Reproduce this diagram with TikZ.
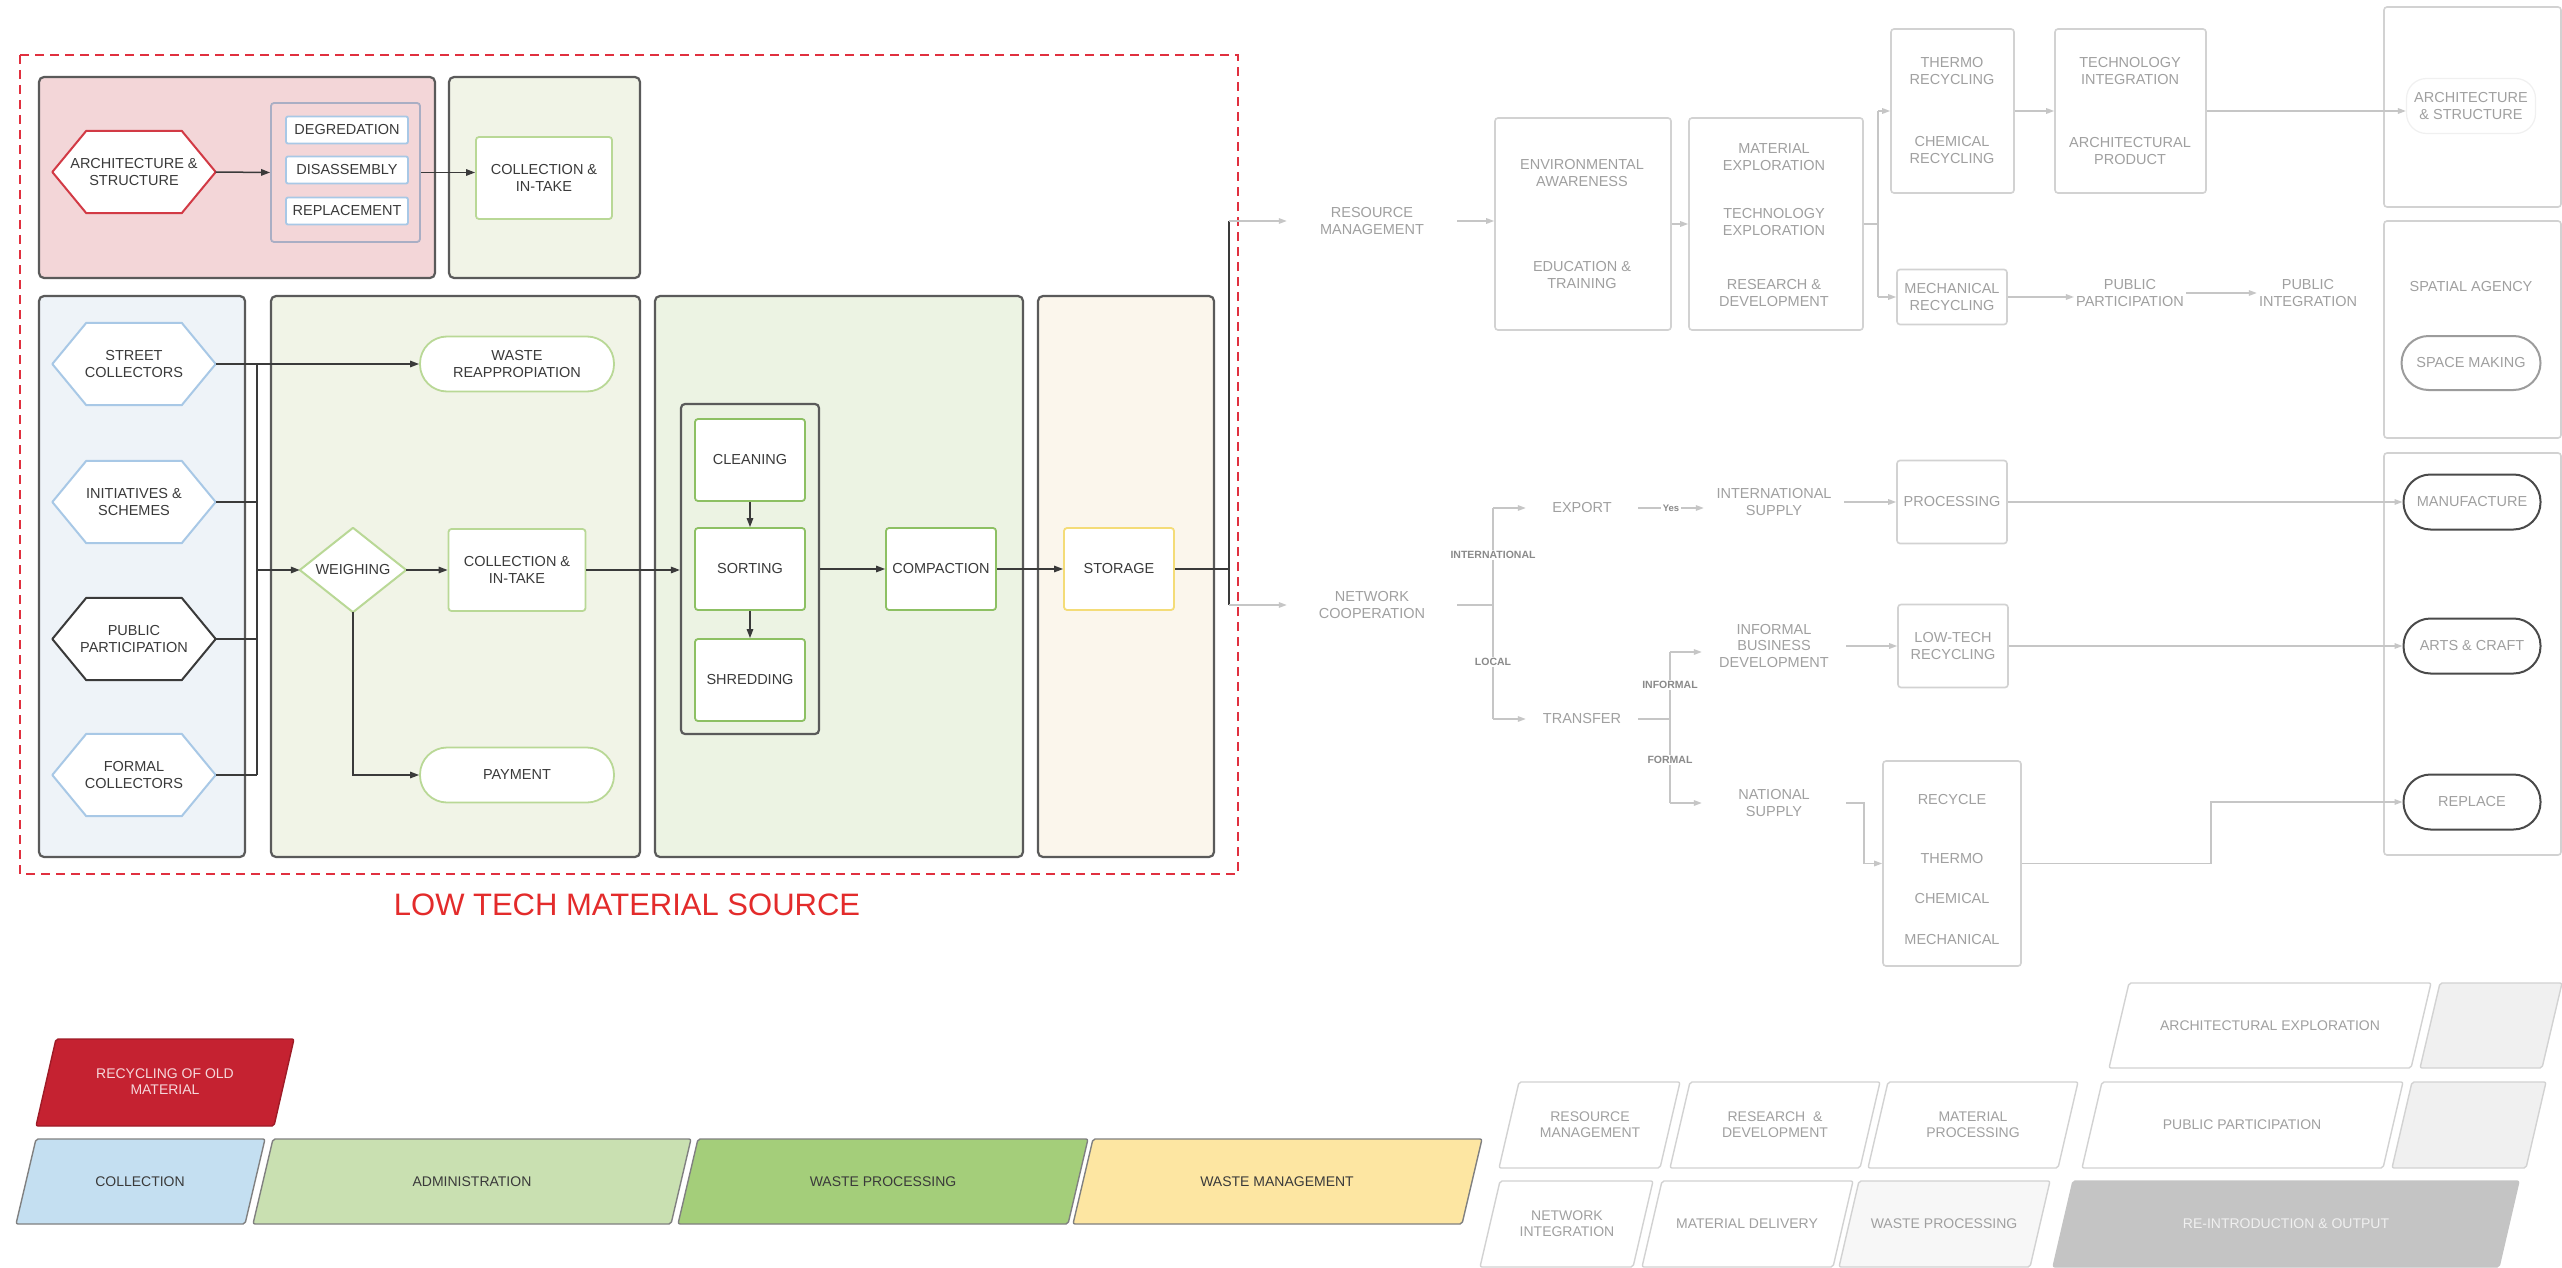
\documentclass[tikz,border=0pt]{standalone}
\usepackage{fontspec}
\setmainfont{Liberation Sans}
\usetikzlibrary{arrows.meta,calc}
\pgfdeclarelayer{panels}
\pgfdeclarelayer{outlines}
\pgfsetlayers{panels,outlines,main}

\definecolor{dashred}{HTML}{E0303F}
\definecolor{titlered}{HTML}{E32B2B}
\definecolor{pinkfill}{HTML}{F3D6D8}
\definecolor{olivefill}{HTML}{F1F4E7}
\definecolor{bluefill}{HTML}{EEF3F8}
\definecolor{greenfill}{HTML}{ECF3E3}
\definecolor{creamfill}{HTML}{FBF6EC}
\definecolor{panelline}{HTML}{5A5A5A}
\definecolor{hexblue}{HTML}{A8C8E6}
\definecolor{hexred}{HTML}{D23A45}
\definecolor{grpline}{HTML}{A9AEC4}
\definecolor{lightgreen}{HTML}{B9D896}
\definecolor{midgreen}{HTML}{8DC063}
\definecolor{yellowline}{HTML}{F4DC78}
\definecolor{inkdark}{HTML}{3A3A3A}
\definecolor{fadetext}{HTML}{A0A0A0}
\definecolor{fadeline}{HTML}{D2D2D2}
\definecolor{fadearrow}{HTML}{C6C6C6}
\definecolor{branchgrey}{HTML}{8A8A8A}
\definecolor{darkline}{HTML}{4A4A4A}
\definecolor{spacegrey}{HTML}{9C9C9C}
\definecolor{legred}{HTML}{C52231}
\definecolor{legblue}{HTML}{C4DFF1}
\definecolor{leglgreen}{HTML}{C9E0B1}
\definecolor{leggreen}{HTML}{A4CE7A}
\definecolor{legyellow}{HTML}{FDE6A2}
\definecolor{leggrey}{HTML}{C4C4C4}

% hexagon drawn around a named node
\newcommand\hexframe[2]{%
  \begin{pgfonlayer}{outlines}
    \draw[#2] (#1.west) -- ([xshift=34pt]#1.north west) -- ([xshift=-34pt]#1.north east)
      -- (#1.east) -- ([xshift=-34pt]#1.south east) -- ([xshift=34pt]#1.south west) -- cycle;
  \end{pgfonlayer}}
% diamond drawn around a named node
\newcommand\diamondframe[2]{%
  \begin{pgfonlayer}{outlines}
    \draw[#2] (#1.west) -- (#1.north) -- (#1.east) -- (#1.south) -- cycle;
  \end{pgfonlayer}}
% slanted legend slab: bottom-left x, bottom-right x, top y, bottom y, style
\newcommand\slab[5]{\draw[#5] (#1,#4) -- (#1+20,#3) -- (#2+20,#3) -- (#2,#4) -- cycle;}

\begin{document}
\begin{tikzpicture}[x=1pt,y=-1pt,
  lbl/.style={font=\fontsize{14.5}{16.5}\selectfont, text=inkdark, align=center, inner sep=2pt},
  fadelbl/.style={font=\fontsize{14.5}{16.5}\selectfont, text=fadetext, align=center, inner sep=2pt},
  panel/.style={draw=panelline, line width=2.2pt, rounded corners=5pt},
  hexnode/.style={lbl, minimum width=163pt, minimum height=82pt},
  hexline/.style={draw=#1, fill=white, line width=2pt, line join=round},
  bluebox/.style={lbl, draw=hexblue, fill=white, line width=1.8pt, minimum width=122pt, minimum height=27pt, rounded corners=2pt},
  greenbox/.style={lbl, draw=lightgreen, fill=white, line width=1.8pt, minimum width=137pt, minimum height=82pt, rounded corners=3pt},
  stadium/.style={lbl, draw=lightgreen, fill=white, line width=1.8pt, minimum width=194pt, minimum height=55pt, rounded corners=27pt},
  procbox/.style={lbl, draw=midgreen, fill=white, line width=1.8pt, minimum width=110pt, minimum height=82pt, rounded corners=3pt},
  link/.style={draw=inkdark, line width=1.5pt, -{Triangle[length=9pt,width=6.5pt]}},
  plain/.style={draw=inkdark, line width=1.5pt},
  fadelink/.style={draw=fadearrow, line width=1.5pt, -{Triangle[length=8pt,width=5.5pt]}},
  fadeplain/.style={draw=fadearrow, line width=1.5pt},
  fadebox/.style={draw=fadeline, line width=1.6pt, rounded corners=3pt, fill=white},
  outstad/.style={fadelbl, draw=#1, line width=2pt, minimum width=137pt, minimum height=55pt, rounded corners=27pt, fill=white},
  branch/.style={font=\bfseries\fontsize{10.5}{12}\selectfont, text=branchgrey, fill=white, inner sep=1.5pt},
  legtext/.style={font=\fontsize{14}{16}\selectfont, align=center, inner sep=1pt},
  legslab/.style={line width=1.4pt, rounded corners=2pt, line join=round},
]
\useasboundingbox (0,0) rectangle (2562,1268);

% ---------- background panels ----------
\begin{pgfonlayer}{panels}
  \fill[white] (0,0) rectangle (2562,1268);
  \draw[panel, fill=pinkfill]  (39,77)   rectangle (435,278);
  \draw[panel, fill=olivefill] (449,77)  rectangle (640,278);
  \draw[panel, fill=bluefill]  (39,296)  rectangle (245,857);
  \draw[panel, fill=olivefill] (271,296) rectangle (640,857);
  \draw[panel, fill=greenfill] (655,296) rectangle (1023,857);
  \draw[panel, fill=creamfill] (1038,296) rectangle (1214,857);
  \draw[draw=dashred, line width=2pt, dash pattern=on 9pt off 6pt] (20,55) rectangle (1238,874);
\end{pgfonlayer}

\node[font=\fontsize{31}{36}\selectfont, text=titlered] (srctitle) at (627,905) {LOW TECH MATERIAL SOURCE};

% ---------- recycling of old material ----------
\node[hexnode] (archhex) at (134,172) {ARCHITECTURE \&\\STRUCTURE};
\hexframe{archhex}{hexline=hexred}
\node[draw=grpline, fill=pinkfill, line width=1.8pt, rounded corners=3pt, minimum width=149pt, minimum height=139pt] (lossgrp) at (345.5,172.5) {};
\node[bluebox] (degr) at (347,130) {DEGREDATION};
\node[bluebox] (disas) at (347,170) {DISASSEMBLY};
\node[bluebox] (repl) at (347,211) {REPLACEMENT};
\node[greenbox, minimum width=136pt] (colltop) at (544,178) {COLLECTION \&\\IN-TAKE};
\draw[link] (archhex.east) -- (lossgrp.west);
\draw[link] (lossgrp.east) -- (lossgrp.east -| colltop.west);

% ---------- collection ----------
\node[hexnode] (street) at (134,364) {STREET\\COLLECTORS};
\node[hexnode] (initi) at (134,502) {INITIATIVES \&\\SCHEMES};
\node[hexnode] (pubpart) at (134,639) {PUBLIC\\PARTICIPATION};
\node[hexnode] (formal) at (134,775) {FORMAL\\COLLECTORS};
\hexframe{street}{hexline=hexblue}
\hexframe{initi}{hexline=hexblue}
\hexframe{pubpart}{hexline=inkdark}
\hexframe{formal}{hexline=hexblue}

% ---------- administration ----------
\node[stadium] (reapp) at (517,364) {WASTE\\REAPPROPIATION};
\node[lbl, minimum width=106pt, minimum height=84pt] (weigh) at (353,570) {WEIGHING};
\diamondframe{weigh}{hexline=lightgreen}
\node[greenbox] (collmid) at (517,570) {COLLECTION \&\\IN-TAKE};
\node[stadium] (pay) at (517,775) {PAYMENT};
\coordinate (jx) at (257,570);

\draw[link] (street.east) -- (reapp.west);
\draw[plain] (initi.east) -- (initi.east -| jx);
\draw[plain] (pubpart.east) -- (pubpart.east -| jx);
\draw[plain] (formal.east) -- (formal.east -| jx);
\draw[plain] (street.east -| jx) -- (formal.east -| jx);
\draw[link] (jx) -- (weigh.west);
\draw[link] (weigh.east) -- (collmid.west);
\draw[link] (weigh.south) |- (pay.west);

% ---------- waste processing ----------
\node[draw=panelline, fill=greenfill, line width=2.2pt, rounded corners=4pt, minimum width=138pt, minimum height=330pt] (procgrp) at (750,569) {};
\node[procbox] (clean) at (750,460) {CLEANING};
\node[procbox] (sort) at (750,569) {SORTING};
\node[procbox] (shred) at (750,680) {SHREDDING};
\node[procbox] (compact) at (941,569) {COMPACTION};
\node[procbox, draw=yellowline] (store) at (1119,569) {STORAGE};
\draw[link] (collmid.east) -- (collmid.east -| procgrp.west);
\draw[link] (clean.south) -- (sort.north);
\draw[link] (sort.south) -- (shred.north);
\draw[link] (procgrp.east) -- (compact.west);
\draw[link] (compact.east) -- (store.west);

% ---------- split towards the outside ----------
\coordinate (brk) at (1229,569);
\coordinate (brtop) at (1229,221);
\coordinate (brbot) at (1229,605);
\draw[plain] (store.east) -- (brk);
\draw[plain] (brtop) -- (brbot);

\node[fadelbl, minimum width=170pt] (resmgmt) at (1372,221) {RESOURCE\\MANAGEMENT};
\node[fadelbl, minimum width=170pt] (netcoop) at (1372,605) {NETWORK\\COOPERATION};
\draw[fadelink] (brtop) -- (resmgmt.west);
\draw[fadelink] (brbot) -- (netcoop.west);

% ---------- resource management branch ----------
\node[fadebox, minimum width=176pt, minimum height=212pt] (envbox) at (1583,224) {};
\node[fadelbl] (envaw) at (1582,173) {ENVIRONMENTAL\\AWARENESS};
\node[fadelbl] (edutr) at (1582,275) {EDUCATION \&\\TRAINING};
\node[fadebox, minimum width=174pt, minimum height=212pt] (matbox) at (1776,224) {};
\node[fadelbl] (matexp) at (1774,157) {MATERIAL\\EXPLORATION};
\node[fadelbl] (techexp) at (1774,222) {TECHNOLOGY\\EXPLORATION};
\node[fadelbl] (resdev) at (1774,293) {RESEARCH \&\\DEVELOPMENT};
\draw[fadelink] (resmgmt.east) -- (resmgmt.east -| envbox.west);
\draw[fadelink] (envbox.east) -- (matbox.west);

\coordinate (mbr) at (1878,224);
\coordinate (mbrtop) at (1878,111);
\coordinate (mbrbot) at (1878,297);
\draw[fadeplain] (matbox.east) -- (mbr);
\draw[fadeplain] (mbrtop) -- (mbrbot);

\node[fadebox, minimum width=123pt, minimum height=164pt] (thermobox) at (1952.5,111) {};
\node[fadelbl] (thermorec) at (1952,71) {THERMO\\RECYCLING};
\node[fadelbl] (chemrec) at (1952,150) {CHEMICAL\\RECYCLING};
\node[fadebox, minimum width=151pt, minimum height=164pt] (techbox) at (2130.5,111) {};
\node[fadelbl] (techint) at (2130,71) {TECHNOLOGY\\INTEGRATION};
\node[fadelbl] (archprod) at (2130,151) {ARCHITECTURAL\\PRODUCT};
\node[fadebox, fadelbl, minimum width=110pt, minimum height=55pt] (mechrec) at (1952,297) {MECHANICAL\\RECYCLING};
\node[fadelbl] (pubpart2) at (2130,293) {PUBLIC\\PARTICIPATION};
\node[fadelbl] (pubint) at (2308,293) {PUBLIC\\INTEGRATION};
\draw[fadelink] (mbrtop) -- (thermobox.west);
\draw[fadelink] (mbrbot) -- (mechrec.west);
\draw[fadelink] (thermobox.east) -- (techbox.west);
\draw[fadelink] (mechrec.east) -- (mechrec.east -| pubpart2.west);
\draw[fadelink] (pubpart2.east) -- (pubint.west);

% ---------- outcomes column ----------
\node[fadebox, minimum width=177pt, minimum height=200pt] (outtop) at (2472.5,107) {};
\node[fadebox, minimum width=177pt, minimum height=217pt] (outmid) at (2472.5,329.5) {};
\node[fadebox, minimum width=177pt, minimum height=402pt] (outlow) at (2472.5,654) {};
\node[fadelbl, draw=gray!12, fill=white, line width=1.2pt, rounded corners=20pt, minimum width=129pt, minimum height=55pt] (archout) at (2471,106) {ARCHITECTURE\\\& STRUCTURE};
\node[fadelbl] (spatial) at (2471,287) {SPATIAL AGENCY};
\node[outstad=spacegrey, minimum width=139pt, minimum height=54pt] (spacemk) at (2471,363) {SPACE MAKING};
\node[outstad=darkline] (manuf) at (2472,502) {MANUFACTURE};
\node[outstad=darkline] (arts) at (2472,646) {ARTS \& CRAFT};
\node[outstad=darkline] (replace) at (2472,802) {REPLACE};
\draw[fadelink] (techbox.east) -- (techbox.east -| archout.west);

% ---------- network cooperation branch ----------
\coordinate (ncj) at (1493,605);
\coordinate (ncjtop) at (1493,508);
\coordinate (ncjbot) at (1493,719);
\draw[fadeplain] (netcoop.east) -- (ncj);
\draw[fadeplain] (ncjtop) -- (ncjbot);
\node[branch] (lblint) at (1493,555) {INTERNATIONAL};
\node[branch] (lbllocal) at (1493,662) {LOCAL};

\node[fadelbl, minimum width=112pt] (export) at (1582,508) {EXPORT};
\node[fadelbl, minimum width=140pt] (intsup) at (1774,502) {INTERNATIONAL\\SUPPLY};
\node[fadebox, fadelbl, minimum width=110pt, minimum height=83pt] (procbox) at (1952,502) {PROCESSING};
\draw[fadelink] (ncjtop) -- (export.west);
\draw[fadelink] (export.east) -- node[branch, font=\bfseries\fontsize{9.5}{11}\selectfont] (yeslbl) {Yes} (export.east -| intsup.west);
\draw[fadelink] (intsup.east) -- (intsup.east -| procbox.west);
\draw[fadelink] (procbox.east) -- (manuf.west);

\node[fadelbl, minimum width=112pt] (transfer) at (1582,719) {TRANSFER};
\draw[fadelink] (ncjbot) -- (transfer.west);
\coordinate (trj) at (1670,719);
\coordinate (trjtop) at (1670,652);
\coordinate (trjbot) at (1670,803);
\draw[fadeplain] (transfer.east) -- (trj);
\draw[fadeplain] (trjtop) -- (trjbot);
\node[branch] (lblinf) at (1670,685) {INFORMAL};
\node[branch] (lblform) at (1670,760) {FORMAL};

\node[fadelbl, minimum width=144pt] (ibd) at (1774,646) {INFORMAL\\BUSINESS\\DEVELOPMENT};
\node[fadelbl, minimum width=144pt] (natsup) at (1774,803) {NATIONAL\\SUPPLY};
\draw[fadelink] (trjtop) -- (trjtop -| ibd.west);
\draw[fadelink] (trjbot) -- (natsup.west);

\node[fadebox, fadelbl, minimum width=110pt, minimum height=83pt] (lowtech) at (1953,646) {LOW-TECH\\RECYCLING};
\draw[fadelink] (ibd.east) -- (lowtech.west);
\draw[fadelink] (lowtech.east) -- (arts.west);

\node[fadebox, minimum width=138pt, minimum height=205pt] (recbox) at (1952,863.5) {};
\node[fadelbl] (recyc) at (1952,800) {RECYCLE};
\node[fadelbl] (rthermo) at (1952,859) {THERMO};
\node[fadelbl] (rchem) at (1952,899) {CHEMICAL};
\node[fadelbl] (rmech) at (1952,940) {MECHANICAL};
\coordinate (nsturn) at (1864,803);
\coordinate (nsdrop) at (1864,863.5);
\draw[fadelink] (natsup.east) -- (nsturn) -- (nsdrop) -- (recbox.west);
\coordinate (rpa) at (2211,863.5);
\coordinate (rpb) at (2211,802);
\draw[fadelink] (recbox.east) -- (rpa) -- (rpb) -- (replace.west);

% ---------- legend, lower left ----------
\slab{36}{274}{1039}{1126}{legslab, fill=legred, draw=legred!80!black}
\node[legtext, text=legred!18!white] (legold) at (165,1082) {RECYCLING OF OLD\\MATERIAL};
\slab{16}{245}{1139}{1224}{legslab, fill=legblue, draw=gray}
\node[legtext, text=inkdark] (legcoll) at (140,1182) {COLLECTION};
\slab{253}{671}{1139}{1224}{legslab, fill=leglgreen, draw=gray}
\node[legtext, text=inkdark] (legadmin) at (472,1182) {ADMINISTRATION};
\slab{678}{1068}{1139}{1224}{legslab, fill=leggreen, draw=gray}
\node[legtext, text=inkdark] (legproc) at (883,1182) {WASTE PROCESSING};
\slab{1073}{1462}{1139}{1224}{legslab, fill=legyellow, draw=gray}
\node[legtext, text=inkdark] (legmgmt) at (1277,1182) {WASTE MANAGEMENT};

% ---------- legend, lower right ----------
\slab{2109}{2411}{983}{1068}{legslab, fill=white, draw=fadeline}
\node[legtext, text=fadetext] (legarch) at (2270,1026) {ARCHITECTURAL EXPLORATION};
\slab{2420}{2542}{983}{1068}{legslab, fill=gray!12, draw=fadeline}
\slab{1499}{1660}{1082}{1168}{legslab, fill=white, draw=fadeline}
\node[legtext, text=fadetext] (legrm) at (1590,1125) {RESOURCE\\MANAGEMENT};
\slab{1670}{1860}{1082}{1168}{legslab, fill=white, draw=fadeline}
\node[legtext, text=fadetext] (legrd) at (1775,1125) {RESEARCH \ \&\\DEVELOPMENT};
\slab{1868}{2058}{1082}{1168}{legslab, fill=white, draw=fadeline}
\node[legtext, text=fadetext] (legmp) at (1973,1125) {MATERIAL\\PROCESSING};
\slab{2082}{2383}{1082}{1168}{legslab, fill=white, draw=fadeline}
\node[legtext, text=fadetext] (legpp) at (2242,1125) {PUBLIC PARTICIPATION};
\slab{2392}{2526}{1082}{1168}{legslab, fill=gray!12, draw=fadeline}
\slab{1480}{1633}{1181}{1267}{legslab, fill=white, draw=fadeline}
\node[legtext, text=fadetext] (legni) at (1567,1224) {NETWORK\\INTEGRATION};
\slab{1642}{1833}{1181}{1267}{legslab, fill=white, draw=fadeline}
\node[legtext, text=fadetext] (legmd) at (1747,1224) {MATERIAL DELIVERY};
\slab{1839}{2030}{1181}{1267}{legslab, fill=gray!6, draw=fadeline}
\node[legtext, text=fadetext] (legwp) at (1944,1224) {WASTE PROCESSING};
\slab{2053}{2499}{1181}{1267}{legslab, fill=leggrey, draw=leggrey}
\node[legtext, text=gray!12] (legout) at (2286,1224) {RE-INTRODUCTION \& OUTPUT};
\end{tikzpicture}
\end{document}
